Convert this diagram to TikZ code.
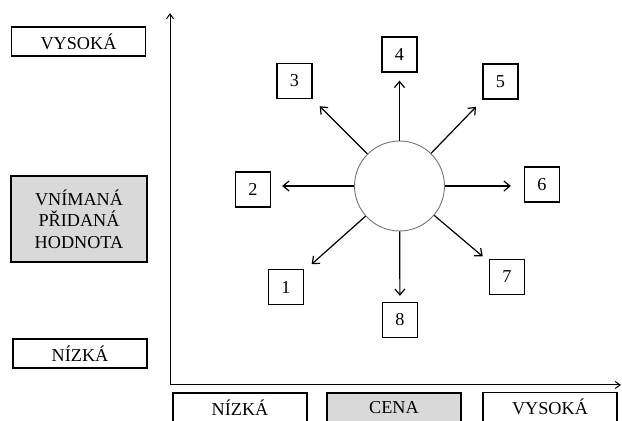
\documentclass[tikz,border=0pt]{standalone}
\usepackage{fontspec}
\setmainfont{Liberation Serif}
\usetikzlibrary{arrows.meta}

\definecolor{boxgray}{HTML}{D9D9D9}

\begin{document}
\begin{tikzpicture}[x=0.5pt,y=-0.5pt]
    \tikzset{axisbox/.style = {draw=black,line width=0.65pt,minimum width=67pt,minimum height=14.5pt,inner sep=0pt,align=center,font=\fontsize{9.1}{10.75}\selectfont},
        numbox/.style = {draw=black,line width=0.65pt,minimum size=17.5pt,inner sep=0pt,font=\fontsize{9.1}{10.75}\selectfont},
        hub/.style = {shape=circle,draw=black!55,line width=0.45pt,minimum size=45pt,inner sep=0pt},
        edge/.style = {line width=0.6pt,-{Straight Barb[length=3pt,width=5pt]}},
        axis/.style = {line width=0.5pt,{Straight Barb[length=2.5pt,width=3.5pt]}-{Straight Barb[length=2.5pt,width=3.5pt]}}}
    \useasboundingbox (0,0) rectangle (622,421);
    % axes
    \coordinate (ytop) at (170,13);
    \coordinate (O) at (170,385);
    \coordinate (xend) at (621,385);
    \draw[axis] (ytop) -- (O) -- (xend);
    % vertical axis labels
    \node[axisbox] (yhigh) at (78.5,41.5) {VYSOKÁ};
    \node[axisbox,fill=boxgray,minimum width=68pt,minimum height=43pt] (ytitle) at (79,219) {VNÍMANÁ\\PŘIDANÁ\\HODNOTA};
    \node[axisbox] (ylow) at (80,353.5) {NÍZKÁ};
    % horizontal axis labels
    \node[axisbox] (xlow) at (240,407.5) {NÍZKÁ};
    \node[axisbox,fill=boxgray] (xtitle) at (394,407.5) {CENA};
    \node[axisbox] (xhigh) at (550,407) {VYSOKÁ};
    % positions
    \node[hub] (hub) at (399.5,186) {};
    \node[numbox] (n1) at (286,287) {1};
    \node[numbox] (n2) at (253,189.5) {2};
    \node[numbox] (n3) at (294.5,81) {3};
    \node[numbox] (n4) at (399.5,54.5) {4};
    \node[numbox] (n5) at (500.5,81.5) {5};
    \node[numbox] (n6) at (542,184.5) {6};
    \node[numbox] (n7) at (507,277) {7};
    \node[numbox] (n8) at (400,320) {8};
    \foreach \n/\g in {1/5pt,3/5pt,4/4pt,5/5pt,7/4pt,8/3pt}
        \draw[edge,shorten >=\g] (hub) -- (n\n);
    \draw[edge,shorten >=5.5pt] (hub.west) -- (hub.west -| n2.east);
    \draw[edge,shorten >=6.5pt] (hub.east) -- (hub.east -| n6.west);
\end{tikzpicture}
\end{document}
